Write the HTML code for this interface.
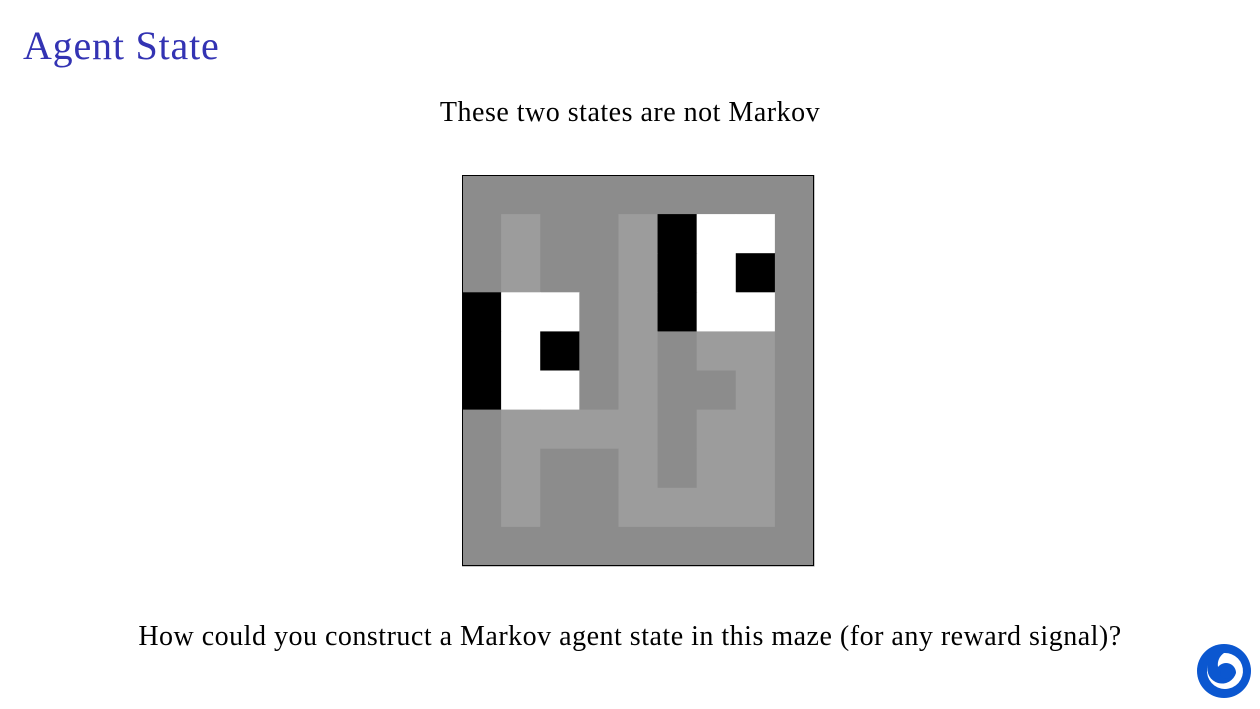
<!DOCTYPE html>
<html><head><meta charset="utf-8"><style>
body{margin:0;width:1260px;height:709px;background:#fff;position:relative;overflow:hidden;font-family:"Liberation Serif","DejaVu Serif",serif;}
.t{position:absolute;white-space:nowrap;}
</style></head><body>
<div class="t" style="left:23px;top:22px;font-size:40px;letter-spacing:0.8px;color:#3333b3;">Agent State</div>
<div class="t" style="left:0;width:1260px;text-align:center;top:97px;font-size:28px;letter-spacing:0.5px;color:#000;">These two states are not Markov</div>
<svg id="maze" style="position:absolute;left:0;top:0" width="1260" height="709"></svg>
<div class="t" style="left:0;width:1260px;text-align:center;top:621px;font-size:28px;letter-spacing:0.5px;color:#000;">How could you construct a Markov agent state in this maze (for any reward signal)?</div>
<svg style="position:absolute;left:1196px;top:643px" width="56" height="56" viewBox="0 0 56 56">
<circle cx="28" cy="28" r="27" fill="#0b57d0"/>
<path d="M28 10 A18 18 0 1 1 12 22 A14 14 0 0 0 40 30 A10 10 0 0 0 22 24 A14 14 0 0 1 28 10Z" fill="#fff"/>
<circle cx="30" cy="30" r="6" fill="#0b57d0"/>
</svg>
<script>
// grid cells: d=dark wall, l=light path, k=black, w=white
const gridRows = [
"ddddddddd",
"dlddlkwwd",
"dlddlkwkd",
"kwwdlkwwd",
"kwkdldlld",
"kwwdlddld",
"dlllldlld",
"dlddldlld",
"dlddlllld",
"ddddddddd"
];
const colors={d:"#8c8c8c",l:"#9c9c9c",k:"#000",w:"#fff"};
const svg=document.getElementById('maze');
const x0=462,y0=175,cw=352/9,ch=391/10;
gridRows.forEach((row,r)=>{[...row].forEach((c,ci)=>{
  const rect=document.createElementNS('http://www.w3.org/2000/svg','rect');
  
  
  rect.setAttribute('x',x0+ci*cw);rect.setAttribute('y',y0+r*ch);
  rect.setAttribute('width',cw+0.5);rect.setAttribute('height',ch+0.5);
  rect.setAttribute('fill',colors[c]);svg.appendChild(rect);
});});
const b=document.createElementNS('http://www.w3.org/2000/svg','rect');


b.setAttribute('x',x0+0.5);b.setAttribute('y',y0+0.5);b.setAttribute('width',351);b.setAttribute('height',390);
b.setAttribute('fill','none');b.setAttribute('stroke','#000');svg.appendChild(b);
</script>
</body></html>
